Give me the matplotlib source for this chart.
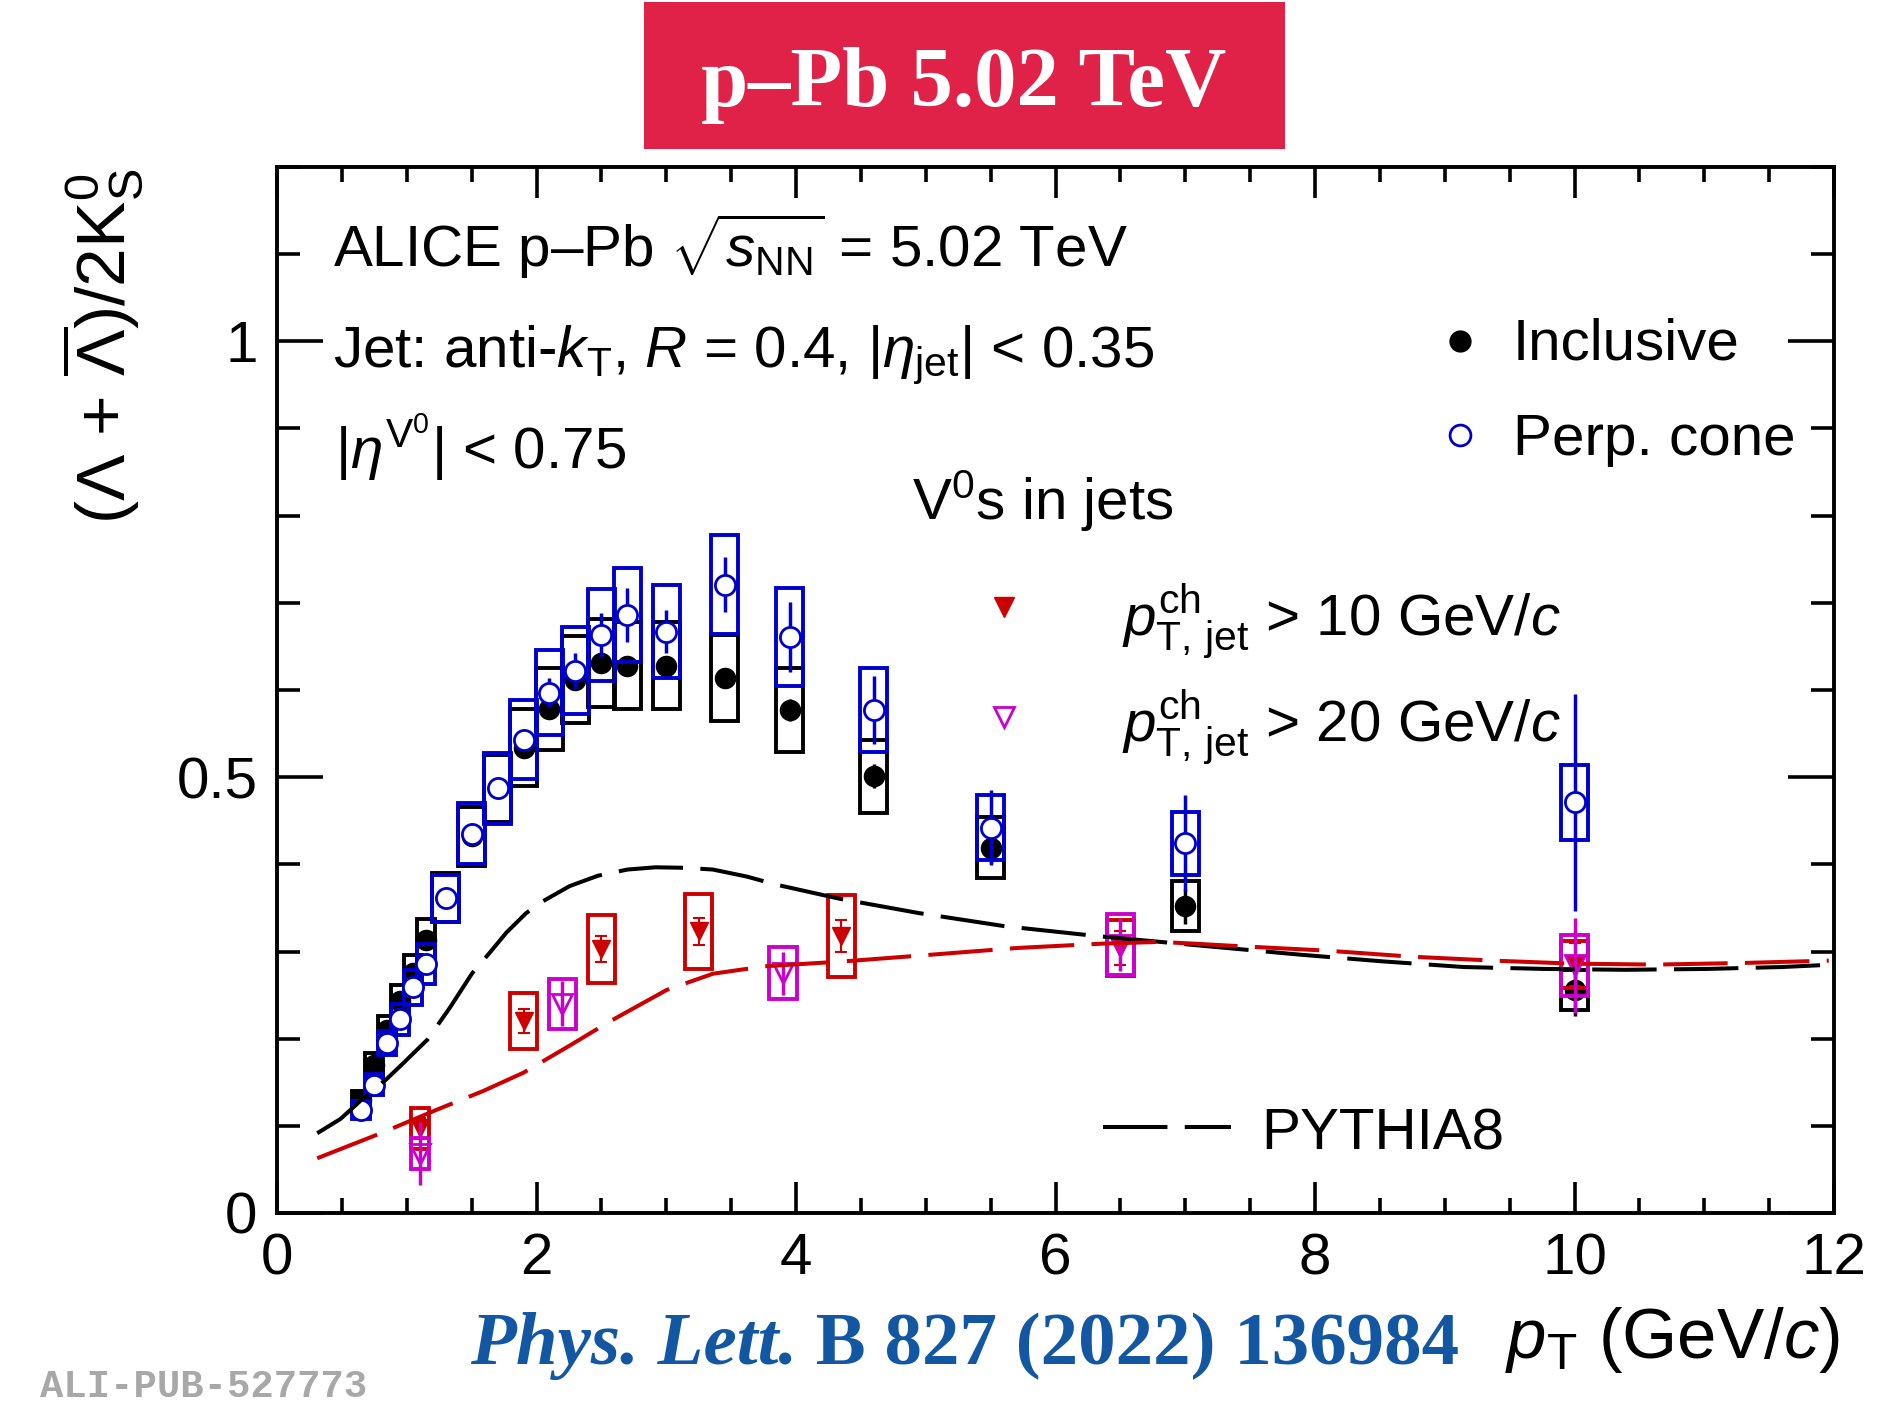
import numpy as np
import matplotlib
matplotlib.use("Agg")
import matplotlib.pyplot as plt
from matplotlib.patches import Rectangle
from matplotlib.lines import Line2D
from matplotlib.ticker import MultipleLocator, FuncFormatter

plt.rcParams['font.family'] = 'Liberation Sans'
plt.rcParams['mathtext.fontset'] = 'custom'
plt.rcParams['mathtext.rm'] = 'Liberation Sans'
plt.rcParams['mathtext.it'] = 'Liberation Sans:italic'
plt.rcParams['mathtext.bf'] = 'Liberation Sans:bold'

# (Lambda + antiLambda)/2K0S ratio vs pT, V0s in jets, p-Pb 5.02 TeV
incl_x = [0.65, 0.75, 0.85, 0.95, 1.05, 1.15, 1.3, 1.5, 1.7, 1.9, 2.1, 2.3,
          2.5, 2.7, 3.0, 3.45, 3.95, 4.6, 5.5, 7.0, 10.0]
incl_y = [0.130, 0.170, 0.210, 0.243, 0.275, 0.313, 0.3615, 0.432, 0.487, 0.534,
          0.578, 0.612, 0.631, 0.628, 0.628, 0.614, 0.577, 0.501, 0.419, 0.352, 0.256]
incl_stat = [0.003, 0.003, 0.003, 0.004, 0.004, 0.004, 0.004, 0.005, 0.005, 0.006,
             0.006, 0.007, 0.008, 0.009, 0.009, 0.011, 0.013, 0.014, 0.018, 0.020, 0.030]
incl_syst = [0.010, 0.013, 0.016, 0.019, 0.021, 0.024, 0.028, 0.034, 0.039, 0.044,
             0.047, 0.050, 0.051, 0.050, 0.050, 0.049, 0.048, 0.042, 0.035, 0.029, 0.023]

perp_x = incl_x
perp_y = [0.118, 0.147, 0.195, 0.222, 0.259, 0.286, 0.361, 0.435, 0.487, 0.543,
          0.597, 0.622, 0.663, 0.686, 0.667, 0.721, 0.661, 0.577, 0.442, 0.424, 0.471]
perp_stat = [0.004, 0.004, 0.005, 0.005, 0.006, 0.006, 0.007, 0.008, 0.009, 0.011,
             0.017, 0.021, 0.025, 0.031, 0.025, 0.032, 0.040, 0.039, 0.043, 0.055, 0.124]
perp_syst = [0.010, 0.012, 0.014, 0.018, 0.020, 0.023, 0.027, 0.035, 0.041, 0.045,
             0.049, 0.050, 0.053, 0.054, 0.053, 0.057, 0.056, 0.048, 0.0375, 0.036, 0.043]

jet10_x = [1.1, 1.9, 2.5, 3.25, 4.35, 6.5, 10.0]
jet10_y = [0.097, 0.220, 0.303, 0.323, 0.318, 0.304, 0.285]
jet10_stat = [0.012, 0.014, 0.015, 0.016, 0.018, 0.020, 0.025]
jet10_syst = [0.024, 0.032, 0.039, 0.043, 0.047, 0.032, 0.027]

jet20_x = [1.1, 2.2, 3.9, 6.5, 10.0]
jet20_y = [0.068, 0.240, 0.275, 0.308, 0.284]
jet20_stat = [0.036, 0.026, 0.025, 0.030, 0.055]
jet20_syst = [0.018, 0.029, 0.030, 0.035, 0.035]

# PYTHIA8 predictions
py10_x = [0.31, 0.49, 0.665, 0.84, 0.974, 1.16, 1.33, 1.504, 1.636, 1.77, 1.92, 2.03,
          2.255, 2.475, 2.70, 2.917, 3.15, 3.36, 3.62, 3.845, 4.33, 4.95, 5.61, 6.3,
          7.1, 7.89, 8.52, 9.145, 9.77, 10.39, 11.02, 11.6, 12.0]
py10_y = [0.0915, 0.108, 0.1317, 0.153, 0.172, 0.199, 0.235, 0.275, 0.298, 0.322,
          0.344, 0.356, 0.375, 0.387, 0.394, 0.3966, 0.396, 0.394, 0.386, 0.3768,
          0.3607, 0.344, 0.329, 0.318, 0.307, 0.2963, 0.2887, 0.2822, 0.280, 0.279,
          0.280, 0.2822, 0.285]
pyjet_x = [0.31, 0.80, 1.24, 1.59, 1.90, 2.255, 2.564, 3.005, 3.36, 3.756, 4.374,
           5.04, 5.70, 6.36, 6.80, 7.07, 7.43, 8.09, 8.75, 9.38, 10.0, 10.63, 11.29, 11.96]
pyjet_y = [0.0628, 0.0915, 0.119, 0.140, 0.161, 0.192, 0.2197, 0.256, 0.2745, 0.283,
           0.2887, 0.2963, 0.304, 0.309, 0.311, 0.309, 0.306, 0.301, 0.294, 0.2895,
           0.286, 0.285, 0.2868, 0.2895]

BLUE = '#0000cc'
RED = '#cc0000'
MAG = '#cc00cc'
BANNER = '#e02249'
JOURNAL = '#1357a3'

W, H = 1896, 1404
fig = plt.figure(figsize=(W / 100, H / 100), dpi=100)
ax = fig.add_axes([277 / W, 1 - 1213 / H, (1834 - 277) / W, (1213 - 167) / H])


def fxy(px, py):
    return px / W, 1 - py / H


def syst_boxes(x, y, syst, color, z):
    x = np.asarray(x)
    hw = np.where(x < 1.2, 0.07, 0.105)
    for xi, yi, si, wi in zip(x, y, syst, hw):
        ax.add_patch(Rectangle((xi - wi, yi - si), 2 * wi, 2 * si, fill=False,
                               ec=color, lw=2.8, zorder=z))


# systematic boxes + statistical bars
syst_boxes(incl_x, incl_y, incl_syst, 'k', 2)
ax.errorbar(incl_x, incl_y, yerr=incl_stat, fmt='o', color='k', ms=14.5,
            elinewidth=2.5, capsize=0, zorder=3)
syst_boxes(perp_x, perp_y, perp_syst, BLUE, 4)
ax.errorbar(perp_x, perp_y, yerr=perp_stat, fmt='o', color=BLUE, mfc='white',
            mec=BLUE, mew=2, ms=14.5, elinewidth=2.5, capsize=0, zorder=5)
syst_boxes(jet10_x, jet10_y, jet10_syst, RED, 4)
ax.errorbar(jet10_x, jet10_y, yerr=jet10_stat, fmt='v', color=RED, ms=13,
            elinewidth=1.5, capsize=4, capthick=1.5, zorder=5)
syst_boxes(jet20_x, jet20_y, jet20_syst, MAG, 5)
ax.errorbar(jet20_x, jet20_y, yerr=jet20_stat, fmt='v', color=MAG, mfc='none',
            mec=MAG, mew=2, ms=14, elinewidth=2.5, capsize=0, zorder=6)

dash = (0, (16, 4.3))
ax.plot(py10_x, py10_y, color='k', lw=2.9, ls=dash, zorder=7)
ax.plot(pyjet_x, pyjet_y, color=RED, lw=2.9, ls=dash, zorder=7)

ax.set_xlim(0, 12)
ax.set_ylim(0, 1.2)
ax.xaxis.set_major_locator(MultipleLocator(2))
ax.xaxis.set_minor_locator(MultipleLocator(0.5))
ax.yaxis.set_major_locator(MultipleLocator(0.5))
ax.yaxis.set_minor_locator(MultipleLocator(0.1))
fmt = FuncFormatter(lambda v, p: f'{v:g}')
ax.xaxis.set_major_formatter(fmt)
ax.yaxis.set_major_formatter(fmt)
ax.tick_params(which='both', direction='in', top=True, right=True, width=2.6,
               labelsize=42)
ax.tick_params(axis='x', which='major', length=22, pad=14)
ax.tick_params(axis='x', which='minor', length=11)
ax.tick_params(axis='y', which='major', length=33, pad=14)
ax.tick_params(axis='y', which='minor', length=16.5)
for s in ax.spines.values():
    s.set_linewidth(2.8)

# axis titles
fig.text(*fxy(102, 169), r'($\Lambda$ + $\overline{\Lambda}$)/2K$^{0}_{\mathrm{S}}$',
         rotation=90, ha='center', va='top', size=50)
fig.text(*fxy(1840, 1358), r'$p_{\mathrm{T}}$ (GeV/$c$)', ha='right',
         va='baseline', size=51)

# labels inside the frame
fig.text(*fxy(333, 267), r'ALICE p–Pb $\sqrt{s_{\mathrm{NN}}}$ = 5.02 TeV',
         va='baseline', size=42)
fig.text(*fxy(333, 367),
         r'Jet: anti-$k_{\mathrm{T}}$, $R$ = 0.4, |$\eta_{\mathrm{jet}}$| < 0.35',
         va='baseline', size=42)
fig.text(*fxy(335, 469), r'|$\eta^{\mathrm{V}^{0}}$| < 0.75', va='baseline', size=42)
fig.text(*fxy(912, 520), r'V$^{0}$s in jets', va='baseline', size=42)

# legend entries
fig.add_artist(Line2D(*[[v] for v in fxy(1460, 341)], marker='o', color='k',
                      ms=15, ls='none'))
fig.text(*fxy(1513, 360), 'Inclusive', va='baseline', size=42)
fig.add_artist(Line2D(*[[v] for v in fxy(1460, 435)], marker='o', mfc='white',
                      mec=BLUE, mew=2, ms=15, ls='none'))
fig.text(*fxy(1513, 455), 'Perp. cone', va='baseline', size=42)
fig.add_artist(Line2D(*[[v] for v in fxy(1004, 607)], marker='v', color=RED,
                      ms=14, ls='none'))
fig.text(*fxy(1122, 635), r'$p^{\mathrm{ch}}_{\mathrm{T,\,jet}}$ > 10 GeV/$c$',
         va='baseline', size=42)
fig.add_artist(Line2D(*[[v] for v in fxy(1004, 717)], marker='v', mfc='none',
                      mec=MAG, mew=2, ms=14, ls='none'))
fig.text(*fxy(1122, 741), r'$p^{\mathrm{ch}}_{\mathrm{T,\,jet}}$ > 20 GeV/$c$',
         va='baseline', size=42)
x0, y0 = fxy(1103, 1127)
x1, _ = fxy(1231, 1127)
fig.add_artist(Line2D([x0, x1], [y0, y0], color='k', lw=2.9, ls=dash))
fig.text(*fxy(1261, 1149), 'PYTHIA8', va='baseline', size=42)

# energy banner
bx, by = fxy(644, 148.5)
fig.add_artist(Rectangle((bx, by), (1285 - 644) / W, (148.5 - 2) / H,
                         transform=fig.transFigure, color=BANNER, lw=0))
fig.text(*fxy(964, 106), 'p–Pb 5.02 TeV', ha='center', va='baseline',
         family='Liberation Serif', weight='bold', size=61, color='white')

# journal reference
renderer = fig.canvas.get_renderer()
t1 = fig.text(*fxy(470, 1364), 'Phys. Lett.', va='baseline', family='Liberation Serif',
              style='italic', weight='bold', size=54, color=JOURNAL)
end = t1.get_window_extent(renderer).x1
fig.text(end / fig.bbox.width, 1 - 1364 / H, ' B 827 (2022) 136984', va='baseline',
         family='Liberation Serif', weight='bold', size=54, color=JOURNAL)

fig.text(*fxy(40, 1397), 'ALI-PUB-527773', va='baseline', family='Liberation Mono',
         weight='bold', size=28, color='#a8a8a8')

fig.savefig('out.png', dpi=100)
